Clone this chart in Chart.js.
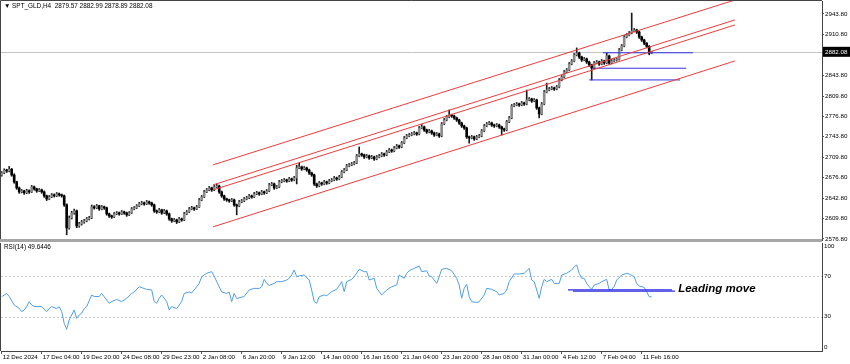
<!DOCTYPE html>
<html><head><meta charset="utf-8">
<script src="https://cdn.jsdelivr.net/npm/chart.js@4.4.1/dist/chart.umd.min.js"></script>
<style>
html,body{margin:0;padding:0;background:#fff;overflow:hidden;}
#wrap{position:relative;width:850px;height:364px;background:#fff;}
canvas{position:absolute;left:0;}
#c1{top:0;} #c2{top:241px;}
#sep{position:absolute;left:0;top:239px;width:822px;height:3px;background:#a6a6a6;z-index:2;}
</style></head><body>
<div id="wrap"><canvas id="c1" width="850" height="241"></canvas><canvas id="c2" width="850" height="123"></canvas><div id="sep"></div></div>
<script>
const symbolName = 'SPT_GLD,H4';
const opens = [
2681.0,2684.5,2689.0,2687.7,2690.5,2681.0,2669.8,2660.0,2653.5,2655.0,
2652.0,2655.5,2653.5,2661.6,2658.4,2655.0,2656.7,2653.5,2647.0,2642.0,
2645.3,2648.6,2647.0,2650.2,2648.6,2647.0,2632.3,2594.7,2611.0,2619.2,
2622.5,2598.0,2601.3,2604.5,2606.2,2609.4,2611.0,2629.0,2627.4,2630.6,
2625.7,2629.0,2627.4,2617.6,2614.3,2612.7,2617.6,2619.2,2617.6,2620.8,
2619.2,2616.0,2619.2,2625.7,2627.4,2630.6,2633.9,2635.5,2633.9,2637.1,
2635.5,2632.3,2622.5,2620.8,2624.1,2619.2,2622.5,2617.6,2609.4,2606.2,
2607.8,2604.5,2609.4,2607.8,2617.6,2620.8,2625.7,2627.4,2625.7,2629.0,
2640.4,2645.3,2653.5,2656.7,2660.0,2656.7,2661.6,2663.2,2653.5,2647.0,
2642.0,2640.4,2638.8,2640.4,2632.3,2630.6,2637.1,2638.8,2642.0,2643.7,
2647.0,2645.3,2650.2,2651.9,2650.2,2653.5,2651.9,2655.0,2664.9,2666.5,
2660.0,2661.6,2669.8,2671.4,2673.0,2671.4,2674.7,2673.0,2676.3,2692.6,
2694.2,2691.0,2692.6,2689.3,2684.4,2681.2,2666.5,2663.2,2668.1,2666.5,
2669.8,2668.1,2671.4,2673.0,2676.3,2674.7,2677.9,2686.0,2689.3,2695.9,
2697.5,2699.1,2700.8,2712.2,2715.4,2713.8,2710.5,2712.2,2708.9,2710.5,
2707.3,2710.5,2712.2,2715.4,2713.8,2718.7,2722.0,2720.3,2725.2,2728.5,
2726.8,2733.4,2741.5,2744.8,2746.4,2748.0,2749.7,2748.0,2757.8,2759.5,
2754.6,2751.3,2753.0,2749.7,2746.4,2748.0,2744.8,2764.4,2770.9,2775.8,
2779.0,2777.4,2774.2,2770.9,2766.0,2761.1,2757.8,2743.2,2741.5,2743.2,
2739.9,2743.2,2744.8,2753.0,2761.1,2764.4,2766.0,2762.7,2761.1,2762.7,
2759.5,2756.2,2754.6,2767.7,2774.2,2793.7,2795.4,2797.0,2795.4,2798.6,
2797.0,2803.5,2805.1,2801.9,2803.5,2790.5,2780.7,2797.0,2816.6,2819.8,
2821.5,2823.1,2821.5,2824.7,2836.1,2841.0,2849.2,2852.4,2862.2,2867.1,
2876.9,2880.2,2873.6,2868.8,2870.4,2865.5,2860.6,2855.7,2863.9,2865.5,
2862.2,2867.1,2863.9,2875.3,2863.9,2867.1,2868.8,2870.0,2885.1,2891.6,
2906.3,2909.5,2912.8,2916.1,2917.7,2914.4,2906.3,2901.4,2896.0,2891.0,
2879.57];
const highs = [
2686.8,2691.2,2690.5,2695.0,2691.8,2683.2,2671.0,2661.5,2657.4,2656.3,
2657.9,2656.8,2664.0,2663.1,2659.6,2659.0,2658.0,2655.1,2648.3,2647.6,
2650.9,2650.2,2652.5,2651.7,2650.0,2648.4,2634.0,2614.2,2621.9,2625.4,
2624.0,2603.7,2606.9,2608.6,2611.8,2613.5,2632.1,2631.2,2633.0,2631.9,
2631.3,2630.4,2628.8,2619.0,2615.7,2619.9,2621.5,2620.6,2623.1,2622.2,
2620.5,2621.4,2628.0,2629.6,2632.8,2636.3,2638.0,2636.9,2639.5,2638.6,
2636.8,2633.7,2624.0,2626.5,2625.3,2624.9,2623.8,2619.0,2610.7,2610.2,
2609.1,2611.8,2610.8,2620.0,2623.2,2628.1,2629.8,2628.7,2631.4,2642.8,
2647.7,2655.9,2659.1,2662.4,2661.3,2664.0,2666.5,2664.6,2654.9,2648.3,
2643.4,2641.7,2642.8,2641.8,2633.7,2639.5,2641.2,2644.4,2646.1,2649.4,
2648.4,2652.6,2654.3,2653.3,2655.9,2654.9,2657.4,2667.3,2669.0,2667.9,
2664.0,2672.2,2673.8,2675.4,2674.4,2677.1,2676.0,2678.7,2697.0,2700.8,
2695.6,2695.0,2694.0,2690.7,2685.8,2682.6,2667.9,2670.5,2669.5,2672.2,
2671.2,2673.8,2675.4,2678.7,2677.7,2680.3,2688.4,2691.7,2698.3,2699.9,
2701.5,2703.2,2714.6,2726.8,2716.8,2715.2,2714.6,2713.6,2712.9,2711.9,
2712.9,2714.6,2717.8,2716.8,2721.1,2724.4,2723.4,2727.6,2730.9,2729.9,
2735.8,2743.9,2747.2,2748.8,2750.4,2752.1,2751.1,2760.2,2763.5,2760.9,
2756.0,2755.4,2754.4,2751.1,2750.4,2749.4,2766.8,2773.3,2778.2,2787.2,
2780.4,2778.8,2775.6,2772.3,2767.4,2762.5,2759.2,2744.6,2745.6,2744.6,
2745.6,2747.2,2755.4,2763.5,2766.8,2768.4,2767.4,2764.1,2765.1,2764.1,
2760.9,2757.6,2770.1,2776.6,2796.1,2797.8,2799.4,2798.4,2801.0,2800.0,
2819.8,2807.5,2806.5,2805.9,2804.9,2791.9,2799.4,2819.0,2831.0,2823.9,
2825.5,2824.5,2827.1,2838.5,2843.4,2851.6,2854.8,2864.6,2869.5,2879.3,
2888.5,2881.6,2875.0,2872.8,2871.8,2866.9,2862.0,2866.3,2867.9,2866.9,
2869.5,2868.5,2880.0,2876.7,2869.5,2871.2,2872.0,2887.5,2894.0,2908.7,
2911.9,2915.2,2945.4,2920.1,2919.1,2915.8,2907.7,2902.8,2897.4,2892.4,
2882.99];
const lows = [
2679.2,2683.0,2685.1,2686.2,2679.0,2667.5,2657.6,2651.2,2651.8,2649.5,
2650.6,2651.0,2652.4,2656.2,2652.8,2653.9,2651.2,2644.6,2639.4,2640.7,
2644.0,2645.1,2645.8,2646.4,2644.9,2629.8,2583.5,2592.6,2609.3,2617.0,
2595.1,2595.8,2599.4,2602.3,2604.7,2607.6,2609.8,2625.3,2626.0,2623.4,
2624.2,2625.0,2615.3,2611.8,2610.2,2611.4,2616.2,2615.3,2616.4,2617.0,
2613.6,2614.7,2618.1,2624.3,2626.2,2629.4,2632.5,2631.6,2632.7,2633.2,
2630.0,2620.1,2618.4,2619.6,2616.8,2618.0,2615.2,2607.1,2603.8,2604.9,
2601.9,2603.3,2605.5,2606.6,2616.2,2619.5,2624.3,2623.3,2624.5,2627.9,
2639.0,2644.0,2652.2,2655.3,2654.3,2655.5,2660.3,2651.1,2644.6,2639.6,
2638.0,2636.5,2637.5,2629.9,2616.0,2629.3,2635.7,2637.4,2640.6,2642.3,
2643.0,2644.0,2648.8,2647.9,2648.8,2649.5,2650.6,2653.7,2663.5,2657.6,
2658.6,2660.3,2668.4,2670.0,2669.0,2670.0,2670.6,2671.6,2666.5,2691.2,
2688.6,2689.6,2687.0,2682.0,2678.8,2664.0,2660.8,2661.8,2664.1,2665.1,
2665.7,2666.7,2670.0,2671.6,2672.3,2673.3,2676.6,2684.6,2688.0,2694.5,
2696.1,2697.7,2699.5,2710.8,2711.4,2708.1,2709.1,2706.5,2707.5,2704.9,
2705.9,2709.1,2710.8,2711.4,2712.4,2717.3,2717.9,2718.9,2723.8,2724.4,
2725.4,2732.0,2740.1,2743.4,2745.0,2746.6,2745.6,2746.6,2756.4,2752.2,
2748.9,2749.9,2747.3,2744.0,2745.0,2742.4,2743.4,2763.0,2769.5,2774.4,
2775.0,2771.8,2768.5,2763.6,2758.7,2755.4,2740.8,2733.0,2740.1,2737.5,
2738.5,2741.8,2743.4,2751.6,2759.7,2763.0,2760.3,2758.7,2759.7,2757.1,
2746.4,2752.2,2753.2,2766.3,2772.8,2792.3,2794.0,2793.0,2794.0,2794.6,
2795.6,2802.1,2799.5,2800.5,2788.1,2774.2,2779.3,2795.6,2815.2,2818.4,
2820.1,2819.1,2820.1,2823.3,2834.7,2839.6,2847.8,2851.0,2860.8,2865.7,
2875.5,2871.2,2866.4,2867.4,2863.1,2858.2,2836.1,2854.3,2862.5,2859.8,
2860.8,2861.5,2862.5,2861.5,2862.5,2865.7,2867.0,2868.6,2883.7,2890.2,
2904.9,2908.1,2911.4,2914.7,2912.0,2903.9,2899.0,2893.6,2888.6,2877.2,
2878.89];
const closes = [
2684.5,2689.0,2687.7,2690.5,2681.0,2669.8,2660.0,2653.5,2655.0,2652.0,
2655.5,2653.5,2661.6,2658.4,2655.0,2656.7,2653.5,2647.0,2642.0,2645.3,
2648.6,2647.0,2650.2,2648.6,2647.0,2632.3,2594.7,2611.0,2619.2,2622.5,
2598.0,2601.3,2604.5,2606.2,2609.4,2611.0,2629.0,2627.4,2630.6,2625.7,
2629.0,2627.4,2617.6,2614.3,2612.7,2617.6,2619.2,2617.6,2620.8,2619.2,
2616.0,2619.2,2625.7,2627.4,2630.6,2633.9,2635.5,2633.9,2637.1,2635.5,
2632.3,2622.5,2620.8,2624.1,2619.2,2622.5,2617.6,2609.4,2606.2,2607.8,
2604.5,2609.4,2607.8,2617.6,2620.8,2625.7,2627.4,2625.7,2629.0,2640.4,
2645.3,2653.5,2656.7,2660.0,2656.7,2661.6,2663.2,2653.5,2647.0,2642.0,
2640.4,2638.8,2640.4,2632.3,2630.6,2637.1,2638.8,2642.0,2643.7,2647.0,
2645.3,2650.2,2651.9,2650.2,2653.5,2651.9,2655.0,2664.9,2666.5,2660.0,
2661.6,2669.8,2671.4,2673.0,2671.4,2674.7,2673.0,2676.3,2692.6,2694.2,
2691.0,2692.6,2689.3,2684.4,2681.2,2666.5,2663.2,2668.1,2666.5,2669.8,
2668.1,2671.4,2673.0,2676.3,2674.7,2677.9,2686.0,2689.3,2695.9,2697.5,
2699.1,2700.8,2712.2,2715.4,2713.8,2710.5,2712.2,2708.9,2710.5,2707.3,
2710.5,2712.2,2715.4,2713.8,2718.7,2722.0,2720.3,2725.2,2728.5,2726.8,
2733.4,2741.5,2744.8,2746.4,2748.0,2749.7,2748.0,2757.8,2759.5,2754.6,
2751.3,2753.0,2749.7,2746.4,2748.0,2744.8,2764.4,2770.9,2775.8,2779.0,
2777.4,2774.2,2770.9,2766.0,2761.1,2757.8,2743.2,2741.5,2743.2,2739.9,
2743.2,2744.8,2753.0,2761.1,2764.4,2766.0,2762.7,2761.1,2762.7,2759.5,
2756.2,2754.6,2767.7,2774.2,2793.7,2795.4,2797.0,2795.4,2798.6,2797.0,
2803.5,2805.1,2801.9,2803.5,2790.5,2780.7,2797.0,2816.6,2819.8,2821.5,
2823.1,2821.5,2824.7,2836.1,2841.0,2849.2,2852.4,2862.2,2867.1,2876.9,
2880.2,2873.6,2868.8,2870.4,2865.5,2860.6,2855.7,2863.9,2865.5,2862.2,
2867.1,2863.9,2875.3,2863.9,2867.1,2868.8,2870.0,2885.1,2891.6,2906.3,
2909.5,2912.8,2916.1,2917.7,2914.4,2906.3,2901.4,2896.0,2891.0,2879.6,
2882.08];

const xTickIdx = [0,16,32,48,64,80,96,112,128,144,160,176,192,208,224,240,256];
const xTickLabels = ['12 Dec 2024','17 Dec 04:00','19 Dec 20:00','24 Dec 08:00','29 Dec 23:00','2 Jan 08:00','6 Jan 20:00','9 Jan 12:00','14 Jan 00:00','16 Jan 16:00','21 Jan 04:00','23 Jan 20:00','28 Jan 08:00','31 Jan 00:00','4 Feb 12:00','7 Feb 04:00','11 Feb 16:00'];
const priceTicks = [2943.80,2910.80,2843.80,2809.80,2776.80,2743.80,2709.80,2676.80,2642.80,2609.80,2576.80];
const rsiTicks = [100,70,30,0];
const rsiLevels = [70,30];

const rsiIdx = [
0,2,3,5,7,8,9,10,11,12,
13,16,18,19,20,22,23,24,25,26,
27,28,29,30,31,32,33,34,36,37,
39,40,42,43,44,46,48,50,52,53,
55,58,60,61,62,63,64,66,67,68,
70,72,73,75,76,78,79,80,82,84,
85,87,88,90,91,92,93,94,97,99,
101,103,104,105,106,107,109,110,112,114,
115,116,117,118,119,121,123,124,125,126,
127,129,130,132,134,136,137,138,140,141,
143,145,146,147,149,150,152,154,156,158,
159,161,162,163,165,167,168,170,171,172,
174,175,176,178,180,182,183,184,185,186,
187,188,190,191,193,194,196,198,199,201,
202,203,205,207,209,211,212,213,214,215,
216,217,218,220,221,223,224,226,228,229,
230,231,232,233,234,235,236,237,239,240,
242,243,244,245,246,248,250,251,253,254,
255,257,258,259,260];
const rsiVals = [
49.8,53,50,41.6,38.3,35,36.6,40,44.9,41.6,
40,40,35,38,40,38,40,35,23.4,17.5,
26.7,31.7,36.6,28.4,31.7,33.4,38,40,51.5,50,
50,53,46.5,43.3,45,47,45,48.2,53,54.5,
59.7,57,56.5,45,43.3,48.2,51.5,45,36.6,40,
38,45,53,54.5,53.5,59.7,63,69.6,73,74.6,
70,59.7,54.5,53,54.5,45,53,48,50,56.5,
58,58,59.7,67,63,61,63,64.7,64.7,66.3,
68,71.3,76.3,69.6,70.5,71.3,66.3,56.4,44.9,43.3,
49.8,51.5,50.8,54.8,57.1,64.7,54.8,64.7,67,69.6,
76.9,74.6,74.6,66.3,68,58.1,51.5,56.4,59.7,61.4,
71.3,68,73,75.5,77.9,80.2,74.6,75.5,70.3,69.6,
63,69.6,76.9,77.9,75.5,68,61.4,48.2,58.1,62,
49.8,44.9,44,44.9,51.5,58.1,57.1,54.8,51.5,53,
56.4,64.7,72.3,72.3,73,77.9,66.3,64.7,56.4,48.2,
59.7,67,64.7,67,63,63,71.3,73,76.2,79.5,
81.2,73,68,68,63,59.7,57.1,61.4,63,64.7,
67,56.4,57.1,60,66.3,71.3,73,72.3,69.6,63,
60.4,59,54.8,49.8,49.6446];

// channel lines (bar index, price)
const chanX = [84.5, 293.3];
const chanTop = [2697.5, 2966.7];
const chanMid1 = [2664.9, 2934.1];
const chanMid2 = [2656.7, 2925.9];
const chanLow = [2596.4, 2867.2];
// horizontal blue levels on price
const hPrice = [2880.5, 2855.3, 2836.2];
const hFrom = [240.5, 236.5, 235.0];
const hTo = [276.5, 273.8, 271.4];
// horizontal blue levels on RSI
const rsiH = [56.5, 55.3];
const rsiHFrom = [226.5, 228.5];
const rsiHTo = [268.1, 269.3];
const noteText = 'Leading move';
const noteAt = {x: 270.6, y: 57.4};

const XMIN = -0.28, XMAX = 328.12;
const FONT = '"Liberation Sans", Arial, sans-serif';
const bars = closes.map((_, i) => i);
const isUp = i => closes[i] >= opens[i];

const priceDatasets = [];
priceDatasets.push({type:'bar', data: bars.map(i => ({x:i, y:[lows[i], highs[i]]})), backgroundColor:'#1a1a1a', barThickness:1, grouped:false, order:3});
priceDatasets.push({type:'bar', data: bars.map(i => ({x:i, y:[opens[i], closes[i]]})),
  backgroundColor: c => isUp(c.dataIndex) ? '#8c8c8c' : '#000000',
  borderWidth:0, borderSkipped:false,
  barThickness:2, minBarLength:1, grouped:false, order:2});
[chanTop, chanMid1, chanMid2, chanLow].forEach(arr => {
  priceDatasets.push({type:'line', data: chanX.map((x,k)=>({x, y:arr[k]})), borderColor:'rgb(236,60,60)', borderWidth:1, pointRadius:0, order:0});
});
hPrice.forEach((p,k) => {
  priceDatasets.push({type:'line', data:[{x:hFrom[k], y:p},{x:hTo[k], y:p}], borderColor:'rgb(50,50,225)', borderWidth:1, pointRadius:0, order:0});
});

function fixY(s){ s.width = 28; s.paddingTop = 0; s.paddingBottom = 0; }

const pricePlugin = {
  id:'pricePlugin',
  beforeDatasetsDraw(chart){
    const {ctx, chartArea:a, scales:{y}} = chart;
    const py = Math.round(y.getPixelForValue(closes[closes.length-1])) + 0.5;
    ctx.save(); ctx.strokeStyle = '#c4c4c4'; ctx.lineWidth = 1;
    ctx.beginPath(); ctx.moveTo(a.left, py); ctx.lineTo(a.right, py); ctx.stroke(); ctx.restore();
  },
  afterDraw(chart){
    const {ctx, chartArea:a, scales:{y}} = chart;
    const n = closes.length - 1;
    ctx.save();
    ctx.strokeStyle = '#444'; ctx.lineWidth = 1;
    ctx.beginPath(); ctx.moveTo(a.left - 0.5, a.bottom); ctx.lineTo(a.left - 0.5, a.top - 0.5); ctx.lineTo(a.right, a.top - 0.5); ctx.stroke();
    const py = y.getPixelForValue(closes[n]);
    ctx.fillStyle = '#000'; ctx.fillRect(a.right + 1, py - 5, chart.width - a.right - 1, 10);
    ctx.fillStyle = '#fff'; ctx.font = '6.2px ' + FONT; ctx.textBaseline = 'middle'; ctx.textAlign = 'left';
    ctx.fillText(closes[n].toFixed(2), a.right + 3, py);
    ctx.fillStyle = '#000';
    ctx.font = '6.4px ' + FONT;
    ctx.fillText('\u25BC ' + symbolName + '  ' + opens[n].toFixed(2) + ' ' + highs[n].toFixed(2) + ' ' + lows[n].toFixed(2) + ' ' + closes[n].toFixed(2), a.left + 3, a.top + 5);
    ctx.restore();
  }
};

new Chart(document.getElementById('c1'), {
  type:'bar',
  data:{datasets: priceDatasets},
  options:{
    responsive:false, animation:false, devicePixelRatio:1, events:[],
    layout:{padding:{left:1, top:1, right:0, bottom:1}},
    plugins:{legend:{display:false}, tooltip:{enabled:false}},
    scales:{
      x:{type:'linear', min:XMIN, max:XMAX, display:false, offset:false},
      y:{position:'right', min:2575, max:2965, beginAtZero:false,
        afterFit: fixY,
        afterBuildTicks(s){ s.ticks = priceTicks.map(v => ({value:v})); },
        ticks:{callback: v => Number(v).toFixed(2), font:{family:FONT, size:6.2}, color:'#000', padding:1, autoSkip:false},
        grid:{drawOnChartArea:false, tickLength:2, color:'#555'},
        border:{display:true, color:'#444'}}
    }
  },
  plugins:[pricePlugin]
});

const rsiDatasets = [
  {type:'line', data: rsiIdx.map((x,k)=>({x, y:rsiVals[k]})), borderColor:'rgb(80,158,232)', borderWidth:1, pointRadius:0, tension:0, order:1}
];
rsiH.forEach((v,k) => {
  rsiDatasets.push({type:'line', data:[{x:rsiHFrom[k], y:v},{x:rsiHTo[k], y:v}], borderColor:'rgb(45,45,225)', borderWidth:1.3, pointRadius:0, order:0});
});

const rsiPlugin = {
  id:'rsiPlugin',
  beforeDatasetsDraw(chart){
    const {ctx, chartArea:a, scales:{y}} = chart;
    ctx.save(); ctx.strokeStyle = '#c8c8c8'; ctx.lineWidth = 1; ctx.setLineDash([2,2]);
    rsiLevels.forEach(v => { const py = Math.round(y.getPixelForValue(v)) + 0.5; ctx.beginPath(); ctx.moveTo(a.left, py); ctx.lineTo(a.right, py); ctx.stroke(); });
    ctx.restore();
  },
  afterDraw(chart){
    const {ctx, chartArea:a, scales:{x, y}} = chart;
    ctx.save();
    ctx.strokeStyle = '#444'; ctx.lineWidth = 1;
    ctx.beginPath(); ctx.moveTo(a.left - 0.5, a.top); ctx.lineTo(a.left - 0.5, a.bottom); ctx.stroke();
    ctx.fillStyle = '#000'; ctx.font = '6.4px ' + FONT; ctx.textBaseline = 'middle'; ctx.textAlign = 'left';
    ctx.fillText('RSI(14) ' + rsiVals[rsiVals.length-1].toFixed(4), a.left + 3, a.top + 4);
    ctx.font = 'italic bold 11.5px ' + FONT;
    ctx.fillText(noteText, x.getPixelForValue(noteAt.x), y.getPixelForValue(noteAt.y));
    ctx.restore();
  }
};

new Chart(document.getElementById('c2'), {
  type:'line',
  data:{datasets: rsiDatasets},
  options:{
    responsive:false, animation:false, devicePixelRatio:1, events:[],
    layout:{padding:{left:1, top:2, right:0, bottom:0}},
    plugins:{legend:{display:false}, tooltip:{enabled:false}},
    scales:{
      x:{type:'linear', min:XMIN, max:XMAX, offset:false,
        afterFit(s){ s.height = 13; s.paddingLeft = 0; s.paddingRight = 0; },
        afterBuildTicks(s){ s.ticks = xTickIdx.map(v => ({value:v})); },
        ticks:{callback:(v,i) => xTickLabels[i], align:'start', autoSkip:false, maxRotation:0, minRotation:0, font:{family:FONT, size:6.2}, color:'#000', padding:0, labelOffset:1},
        grid:{drawOnChartArea:false, tickLength:3, color:'#555'},
        border:{display:true, color:'#444'}},
      y:{position:'right', min:-4, max:103,
        afterFit: fixY,
        afterBuildTicks(s){ s.ticks = rsiTicks.map(v => ({value:v})); },
        ticks:{callback: v => String(v), font:{family:FONT, size:6.2}, color:'#000', padding:2, autoSkip:false},
        grid:{display:false, drawTicks:false, tickLength:0},
        border:{display:true, color:'#444'}}
    }
  },
  plugins:[rsiPlugin]
});
</script>
</body></html>
